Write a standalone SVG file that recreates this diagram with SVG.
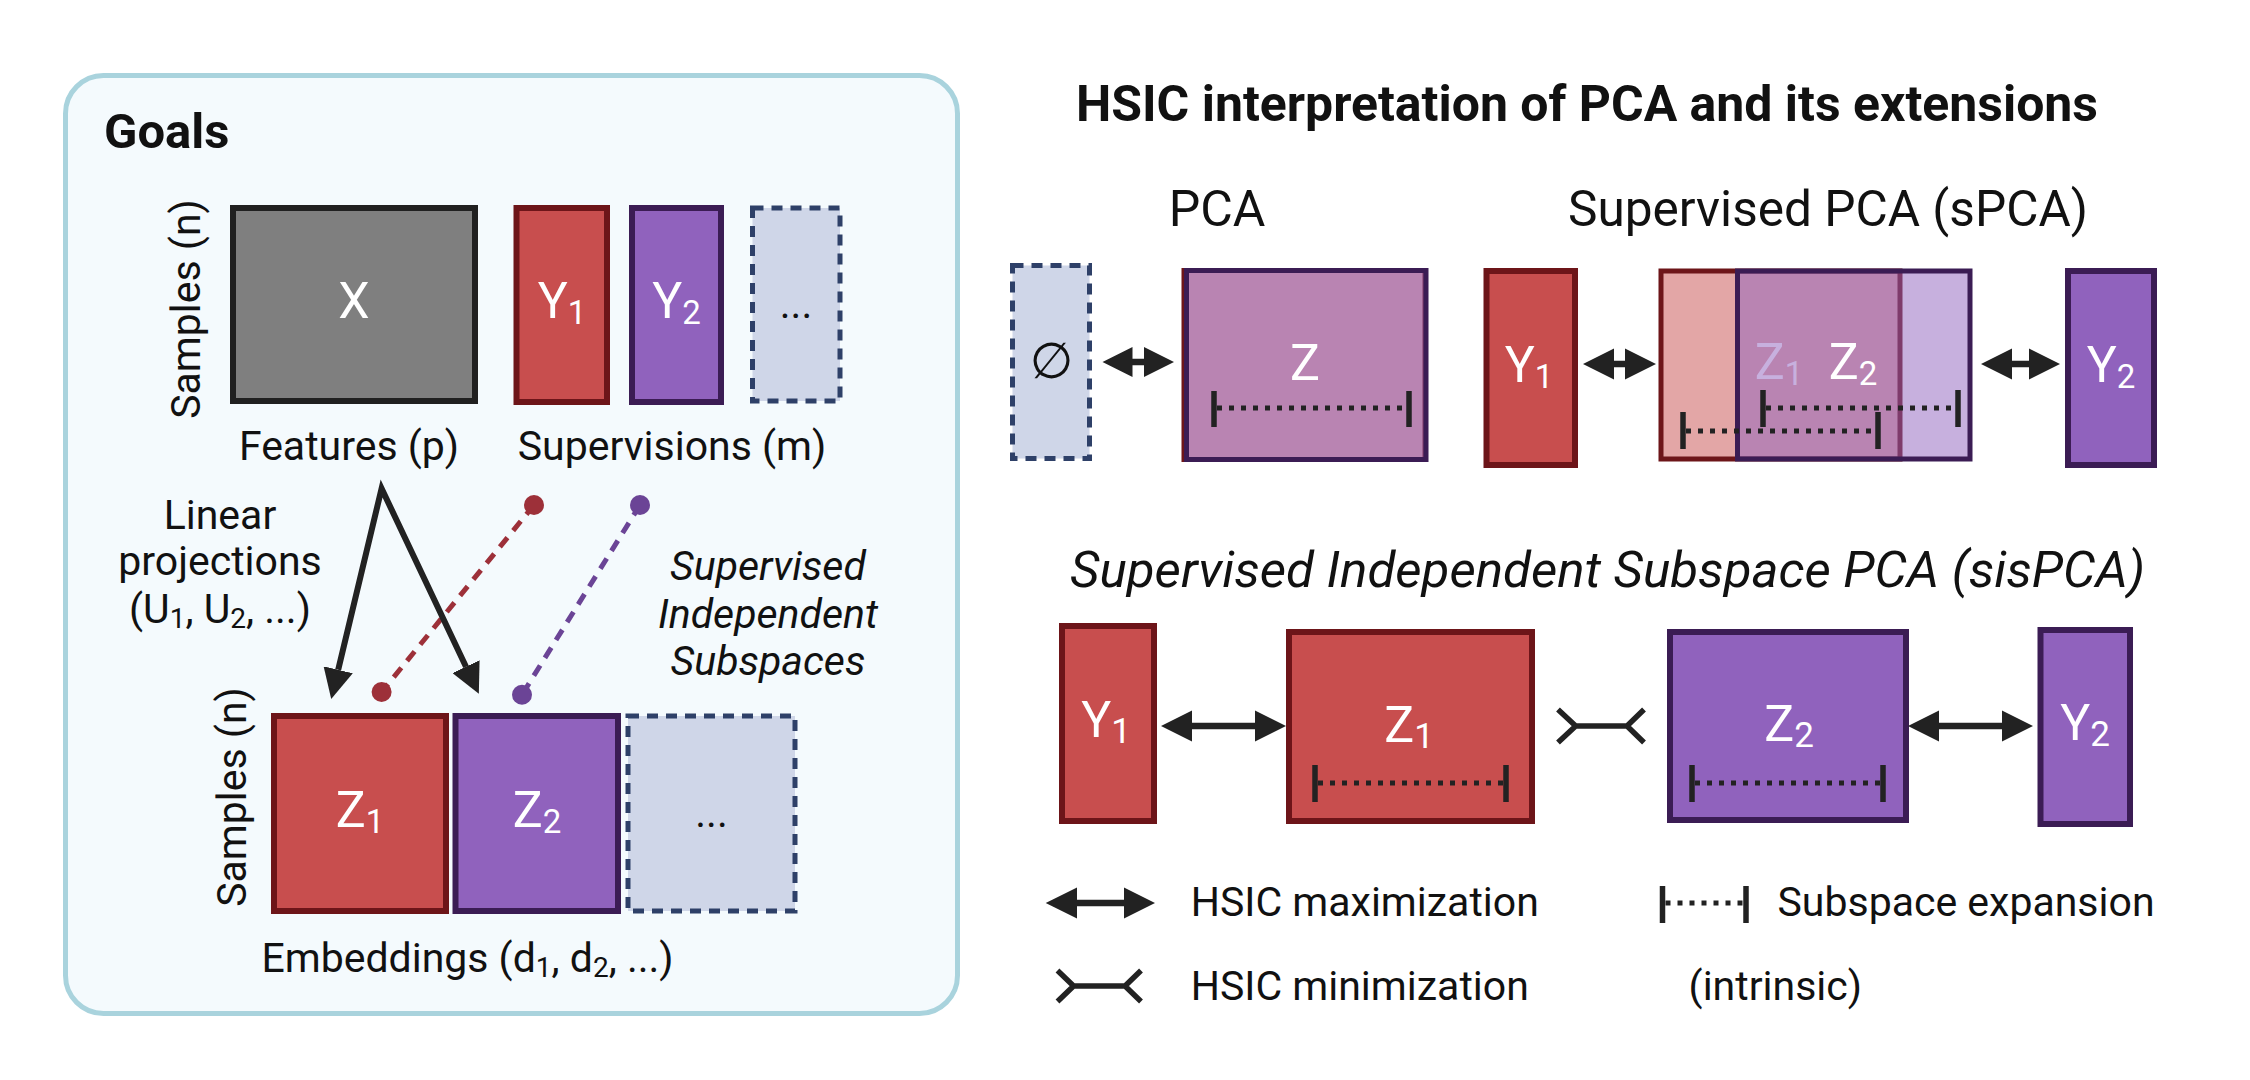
<svg xmlns="http://www.w3.org/2000/svg" width="2250" height="1080" viewBox="0 0 2250 1080">
<defs>
<style>
text{font-family:Roboto,"Liberation Sans",sans-serif;fill:#111}
.lbl{font-size:41px}
.big{font-size:50px}
.w{fill:#fff;font-size:50px}
.red{fill:#c84e4e;stroke:#6d1519;stroke-width:6}
.redh{fill:#c84e4e;fill-opacity:.5;stroke:#6d1519;stroke-width:5}
.pur{fill:#9062bd;stroke:#3b1c54;stroke-width:6}
.purh{fill:#9062bd;fill-opacity:.5;stroke:#3b1c54;stroke-width:5}
.gray{fill:#7f7f7f;stroke:#202020;stroke-width:6}
.dash{fill:#cfd6e8;stroke:#2e4068;stroke-width:5;stroke-dasharray:11 8}
.tick{stroke:#222;stroke-width:5.5;fill:none}
.dots{stroke:#222;stroke-width:5;stroke-dasharray:5 7;fill:none}
.darr{fill:#222}
.minl{stroke:#222;stroke-width:5.5;fill:none;stroke-linejoin:miter}
</style>
<marker id="head" markerUnits="userSpaceOnUse" markerWidth="30" markerHeight="30" refX="0" refY="14" orient="auto-start-reverse" viewBox="0 0 28 28">
<path d="M0,0 L28,14 L0,28 z" fill="#222"/>
</marker>
</defs>
<rect width="2250" height="1080" fill="#fff"/>

<!-- Left panel -->
<g id="goals-panel">
<rect x="65.5" y="75.5" width="892" height="938" rx="38" fill="#f4fafd" stroke="#a9d3dd" stroke-width="5"/>
<text x="104" y="148" font-weight="bold" font-size="49">Goals</text>
</g>

<g id="connectors">
<line x1="534" y1="505" x2="381.6" y2="692" stroke="#9d3039" stroke-width="5" stroke-dasharray="12 9"/>
<circle cx="534" cy="505" r="10" fill="#9d3039"/>
<circle cx="381.6" cy="692" r="10" fill="#9d3039"/>
<line x1="640" y1="505" x2="522" y2="694.7" stroke="#6b4496" stroke-width="5" stroke-dasharray="12 9"/>
<circle cx="640" cy="505" r="10" fill="#6b4496"/>
<circle cx="522" cy="694.7" r="10" fill="#6b4496"/>
<path d="M338.2,669.8 L381.6,488.5 L466,666.7" fill="none" stroke="#222" stroke-width="6" stroke-linejoin="miter" marker-start="url(#head)" marker-end="url(#head)"/>
</g>

<g id="samples-top"><text class="lbl" transform="translate(200,309) rotate(-90)" text-anchor="middle">Samples (n)</text></g>
<g id="X"><rect class="gray" x="233" y="208" width="242" height="193"/><text class="w" x="354" y="318" text-anchor="middle">X</text></g>
<g id="Y1-top"><rect class="red" x="516.5" y="208" width="90.5" height="194"/><text class="w" x="562" y="318" text-anchor="middle">Y<tspan font-size="33" dy="6">1</tspan></text></g>
<g id="Y2-top"><rect class="pur" x="632" y="208" width="89" height="194"/><text class="w" x="676.5" y="318" text-anchor="middle">Y<tspan font-size="33" dy="6">2</tspan></text></g>
<g id="more-top"><rect class="dash" x="752.5" y="208" width="87.5" height="193"/><text class="lbl" x="796" y="318" text-anchor="middle">...</text></g>
<g id="features"><text class="lbl" x="349" y="460" text-anchor="middle">Features (p)</text></g>
<g id="supervisions"><text class="lbl" x="672" y="460" text-anchor="middle">Supervisions (m)</text></g>
<g id="linproj">
<text class="lbl" x="220" y="529" text-anchor="middle">Linear</text>
<text class="lbl" x="220" y="575" text-anchor="middle">projections</text>
<text class="lbl" x="220" y="623" text-anchor="middle">(U<tspan font-size="28" dy="5">1</tspan><tspan dy="-5">, U</tspan><tspan font-size="28" dy="5">2</tspan><tspan dy="-5">, ...)</tspan></text>
</g>
<g id="sis-label" font-style="italic">
<text class="lbl" x="768" y="580" text-anchor="middle">Supervised</text>
<text class="lbl" x="768" y="628" text-anchor="middle">Independent</text>
<text class="lbl" x="768" y="675" text-anchor="middle">Subspaces</text>
</g>
<g id="samples-bottom"><text class="lbl" transform="translate(246,797) rotate(-90)" text-anchor="middle">Samples (n)</text></g>
<g id="Z1-left"><rect class="red" x="274" y="716" width="172" height="195"/><text class="w" x="360" y="827" text-anchor="middle">Z<tspan font-size="33" dy="6">1</tspan></text></g>
<g id="Z2-left"><rect class="pur" x="455.5" y="716" width="162.5" height="195"/><text class="w" x="537" y="827" text-anchor="middle">Z<tspan font-size="33" dy="6">2</tspan></text></g>
<g id="more-bottom"><rect class="dash" x="628" y="716" width="167" height="195"/><text class="lbl" x="711.5" y="827" text-anchor="middle">...</text></g>
<g id="embeddings"><text class="lbl" x="467.5" y="972" text-anchor="middle">Embeddings (d<tspan font-size="28" dy="5">1</tspan><tspan dy="-5">, d</tspan><tspan font-size="28" dy="5">2</tspan><tspan dy="-5">, ...)</tspan></text></g>

<!-- Right side -->
<g id="title"><text x="1587" y="121" text-anchor="middle" font-weight="bold" font-size="50" textLength="1022" lengthAdjust="spacingAndGlyphs">HSIC interpretation of PCA and its extensions</text></g>

<g id="pca">
<text class="big" x="1217" y="226" text-anchor="middle">PCA</text>
<rect class="dash" x="1012.5" y="265.5" width="77" height="193"/>
<text x="1051.5" y="378" text-anchor="middle" font-size="50" style="font-family:'DejaVu Sans',sans-serif">∅</text>
<polygon class="darr" points="1102.5,362 1132.5,347 1132.5,358.8 1144,358.8 1144,347 1174,362 1144,377 1144,365.2 1132.5,365.2 1132.5,377"/>
<rect class="redh" x="1184" y="270.5" width="241" height="189"/>
<rect class="purh" x="1186.5" y="270.5" width="239.5" height="189"/>
<text class="w" x="1305" y="380" text-anchor="middle">Z</text>
<line class="tick" x1="1214" y1="391" x2="1214" y2="427"/><line class="tick" x1="1409" y1="391" x2="1409" y2="427"/><line class="dots" x1="1217" y1="408" x2="1406" y2="408"/>
</g>

<g id="spca">
<text class="big" x="1828" y="226" text-anchor="middle" textLength="520" lengthAdjust="spacingAndGlyphs">Supervised PCA (sPCA)</text>
<rect class="red" x="1486.5" y="271" width="88.5" height="194"/>
<text class="w" x="1529" y="382" text-anchor="middle">Y<tspan font-size="33" dy="6">1</tspan></text>
<polygon class="darr" points="1583,364 1614,348.5 1614,360.8 1625,360.8 1625,348.5 1656,364 1625,379.5 1625,367.2 1614,367.2 1614,379.5"/>
<rect class="redh" x="1661" y="271" width="239" height="188"/>
<text class="w" x="1779" y="379" text-anchor="middle">Z<tspan font-size="33" dy="6">1</tspan></text>
<rect class="purh" x="1737.5" y="271" width="232.5" height="188"/>
<text class="w" x="1853" y="379" text-anchor="middle">Z<tspan font-size="33" dy="6">2</tspan></text>
<line class="tick" x1="1763" y1="390" x2="1763" y2="427"/><line class="tick" x1="1958" y1="390" x2="1958" y2="427"/><line class="dots" x1="1766" y1="408" x2="1955" y2="408"/>
<line class="tick" x1="1683" y1="412" x2="1683" y2="449"/><line class="tick" x1="1878" y1="412" x2="1878" y2="449"/><line class="dots" x1="1686" y1="431" x2="1875" y2="431"/>
<polygon class="darr" points="1981,364 2012,348.5 2012,360.8 2029,360.8 2029,348.5 2060,364 2029,379.5 2029,367.2 2012,367.2 2012,379.5"/>
<rect class="pur" x="2068" y="271" width="86" height="194"/>
<text class="w" x="2111" y="382" text-anchor="middle">Y<tspan font-size="33" dy="6">2</tspan></text>
</g>

<g id="sispca">
<text class="big" x="1607.5" y="587" text-anchor="middle" font-style="italic" textLength="1075" lengthAdjust="spacingAndGlyphs">Supervised Independent Subspace PCA (sisPCA)</text>
<rect class="red" x="1062" y="626" width="92" height="195"/>
<text class="w" x="1106" y="737" text-anchor="middle">Y<tspan font-size="35" dy="6">1</tspan></text>
<polygon class="darr" points="1161,726 1192,710.5 1192,722.8 1255,722.8 1255,710.5 1286,726 1255,741.5 1255,729.2 1192,729.2 1192,741.5"/>
<rect class="red" x="1289" y="632" width="243" height="189"/>
<text class="w" x="1409" y="742" text-anchor="middle">Z<tspan font-size="35" dy="6">1</tspan></text>
<line class="tick" x1="1315" y1="765" x2="1315" y2="802"/><line class="tick" x1="1506" y1="765" x2="1506" y2="802"/><line class="dots" x1="1318" y1="783" x2="1503" y2="783"/>
<path class="minl" d="M1558,709.5 L1575.7,726 L1558,742.5 M1575.7,726 L1627,726 M1644,709.5 L1627,726 L1644,742.5"/>
<rect class="pur" x="1670" y="632" width="236" height="188"/>
<text class="w" x="1789" y="741" text-anchor="middle">Z<tspan font-size="35" dy="6">2</tspan></text>
<line class="tick" x1="1692" y1="765" x2="1692" y2="802"/><line class="tick" x1="1883" y1="765" x2="1883" y2="802"/><line class="dots" x1="1695" y1="783" x2="1880" y2="783"/>
<polygon class="darr" points="1908,726 1939,710.5 1939,722.8 2002,722.8 2002,710.5 2033,726 2002,741.5 2002,729.2 1939,729.2 1939,741.5"/>
<rect class="pur" x="2040.5" y="630" width="89.5" height="194"/>
<text class="w" x="2085" y="740" text-anchor="middle">Y<tspan font-size="35" dy="6">2</tspan></text>
</g>

<g id="legend">
<polygon class="darr" points="1045.7,903 1077,887.5 1077,899.8 1124,899.8 1124,887.5 1155,903 1124,918.5 1124,906.2 1077,906.2 1077,918.5"/>
<text class="lbl" x="1190.7" y="916">HSIC maximization</text>
<path class="minl" d="M1057.5,970.5 L1073.6,986 L1057.5,1001.5 M1073.6,986 L1125,986 M1141,970.5 L1125,986 L1141,1001.5"/>
<text class="lbl" x="1190.7" y="1000">HSIC minimization</text>
<line class="tick" x1="1662.5" y1="886" x2="1662.5" y2="923"/><line class="tick" x1="1746" y1="886" x2="1746" y2="923"/><line class="dots" x1="1665.5" y1="903" x2="1743" y2="903"/>
<text class="lbl" x="1777.5" y="916">Subspace expansion</text>
<text class="lbl" x="1688.6" y="1000">(intrinsic)</text>
</g>
</svg>
